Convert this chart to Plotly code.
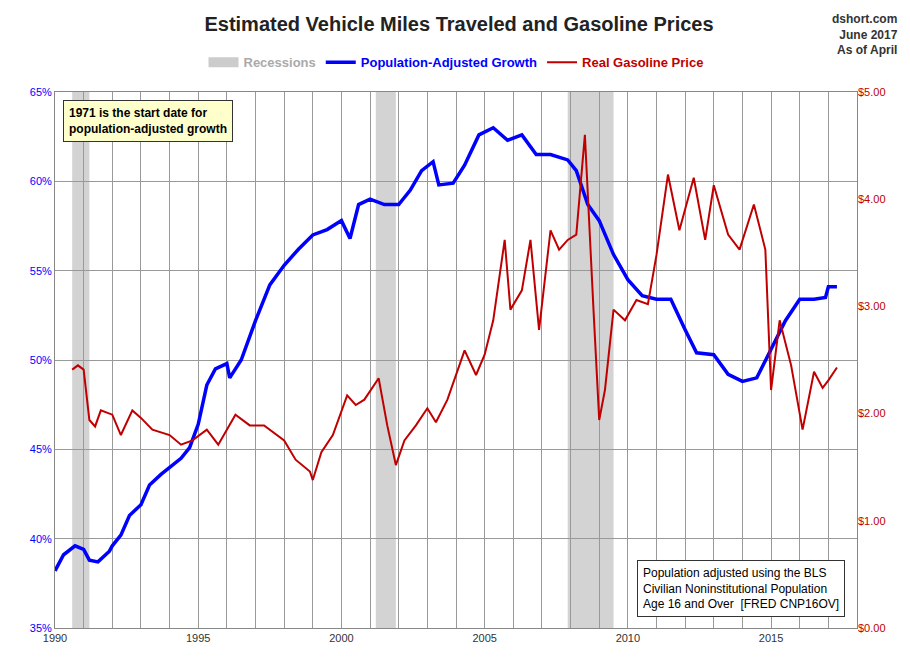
import plotly.graph_objects as go

vmt_x = [1990.0,1990.3,1990.7,1991.0,1991.2,1991.5,1991.9,1992.0,1992.3,1992.6,1993.0,1993.3,1993.7,1994.0,1994.4,1994.7,1995.0,1995.3,1995.6,1996.0,1996.1,1996.5,1997.0,1997.5,1998.0,1998.5,1999.0,1999.5,2000.0,2000.3,2000.6,2001.0,2001.5,2002.0,2002.4,2002.8,2003.2,2003.4,2003.9,2004.3,2004.8,2005.3,2005.8,2006.3,2006.8,2007.3,2007.9,2008.2,2008.6,2009.0,2009.5,2010.0,2010.5,2011.0,2011.5,2012.0,2012.4,2013.0,2013.5,2014.0,2014.5,2015.0,2015.5,2016.0,2016.5,2016.9,2017.0,2017.3]
vmt_y = [38.2,39.1,39.6,39.4,38.8,38.7,39.3,39.6,40.2,41.3,41.9,43.0,43.6,44.0,44.5,45.1,46.4,48.6,49.5,49.8,49.0,50.0,52.2,54.2,55.3,56.2,57.0,57.3,57.8,56.8,58.7,59.0,58.7,58.7,59.5,60.6,61.1,59.8,59.9,60.9,62.6,63.0,62.3,62.6,61.5,61.5,61.2,60.6,58.7,57.8,55.9,54.5,53.6,53.4,53.4,51.7,50.4,50.3,49.2,48.8,49.0,50.6,52.2,53.4,53.4,53.5,54.1,54.1]

gas_x = [1990.6,1990.8,1991.0,1991.2,1991.4,1991.6,1992.0,1992.3,1992.7,1993.0,1993.4,1994.0,1994.4,1994.8,1995.3,1995.7,1996.3,1996.8,1997.3,1998.0,1998.4,1998.9,1999.0,1999.3,1999.7,2000.2,2000.5,2000.8,2001.3,2001.6,2001.9,2002.2,2002.6,2003.0,2003.3,2003.7,2004.3,2004.7,2005.0,2005.3,2005.7,2005.9,2006.3,2006.6,2006.9,2007.3,2007.6,2007.9,2008.2,2008.5,2008.8,2009.0,2009.2,2009.5,2009.9,2010.3,2010.7,2011.0,2011.4,2011.8,2012.3,2012.7,2013.0,2013.5,2013.9,2014.4,2014.8,2015.0,2015.3,2015.7,2016.1,2016.5,2016.8,2017.0,2017.3]
gas_y = [2.41,2.45,2.41,1.94,1.88,2.03,1.99,1.80,2.03,1.96,1.85,1.80,1.71,1.75,1.85,1.71,1.99,1.89,1.89,1.75,1.57,1.46,1.38,1.64,1.80,2.17,2.08,2.13,2.33,1.89,1.52,1.75,1.89,2.05,1.92,2.13,2.59,2.36,2.55,2.87,3.62,2.97,3.15,3.62,2.78,3.71,3.53,3.62,3.67,4.60,2.97,1.94,2.22,2.97,2.87,3.06,3.02,3.48,4.23,3.71,4.20,3.62,4.13,3.67,3.53,3.95,3.53,2.22,2.87,2.45,1.85,2.39,2.24,2.31,2.43]

recessions = [(1990.6, 1991.2), (2001.2, 2001.9), (2007.9, 2009.5)]
years = list(range(1990, 2019))

fig = go.Figure()
for a, b in recessions:
    fig.add_vrect(x0=a, x1=b, fillcolor="#d3d3d3", line_width=0, layer="below")
fig.add_trace(go.Scatter(x=[None], y=[None], mode="lines",
                         name="<b><span style='color:#aaaaaa'>Recessions</span></b>",
                         line=dict(color="#cccccc", width=10)))
fig.add_trace(go.Scatter(x=vmt_x, y=vmt_y, mode="lines",
                         name="<b><span style='color:#0000ff'>Population-Adjusted Growth</span></b>",
                         line=dict(color="#0000ff", width=3.5)))
fig.add_trace(go.Scatter(x=gas_x, y=gas_y, mode="lines",
                         name="<b><span style='color:#c00000'>Real Gasoline Price</span></b>",
                         line=dict(color="#c00000", width=2), yaxis="y2"))

fig.update_layout(
    width=902, height=653, paper_bgcolor="white", plot_bgcolor="white",
    margin=dict(l=47, r=53, t=84, b=33, autoexpand=False),
    font=dict(family="Liberation Sans, Arial", size=12),
    title=dict(text="<b>Estimated Vehicle Miles Traveled and Gasoline Prices</b>", x=0.5, y=0.975,
               xanchor="center", yanchor="middle", font=dict(size=20, color="#222")),
    showlegend=True,
    legend=dict(orientation="h", x=0.5, xanchor="center", yref="container", y=0.917, yanchor="middle",
                font=dict(size=13)),
    xaxis=dict(range=[1990, 2018], tickvals=years,
               ticktext=[str(y) if y % 5 == 0 else "" for y in years],
               showgrid=True, gridcolor="#999", gridwidth=1, ticks="",
               showline=True, linecolor="#888", mirror=True, zeroline=False,
               tickfont=dict(size=11, color="#333")),
    yaxis=dict(range=[35, 65], dtick=5, ticksuffix="%", showgrid=True, gridcolor="#999",
               showline=True, linecolor="#888", mirror=True, zeroline=False,
               tickfont=dict(size=11, color="#0000ff")),
    yaxis2=dict(range=[0, 5], dtick=1, tickprefix="$", tickformat=".2f", overlaying="y",
                side="right", showgrid=False, zeroline=False,
                tickfont=dict(size=11, color="#c00000")),
)

fig.add_annotation(text="<b>dshort.com<br>June 2017<br>As of April</b>", xref="paper", yref="paper",
                   x=1.054, y=1.153, xanchor="right", yanchor="top", align="right", showarrow=False,
                   font=dict(size=12, color="#333"))
fig.add_annotation(text="<b>1971 is the start date for<br>population-adjusted growth</b>", xref="paper", yref="paper",
                   x=0.01, y=0.985, xanchor="left", yanchor="top", align="left", showarrow=False,
                   bgcolor="#ffffcc", bordercolor="#333", borderwidth=1, borderpad=5,
                   font=dict(size=12, color="#000"))
fig.add_annotation(text="Population adjusted using the BLS<br>Civilian Noninstitutional Population<br>Age 16 and Over  [FRED CNP16OV]",
                   xref="paper", yref="paper", x=0.985, y=0.02, xanchor="right", yanchor="bottom",
                   align="left", showarrow=False, bgcolor="white", bordercolor="#333", borderwidth=1,
                   borderpad=5, font=dict(size=12, color="#000"))
fig.write_html("out.html")
